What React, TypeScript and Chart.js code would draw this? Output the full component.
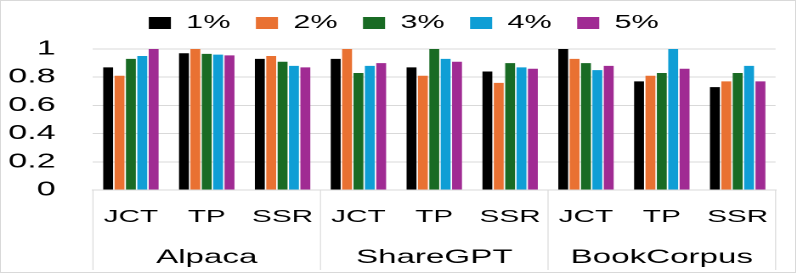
import React, { useEffect, useRef } from "react";
import { Chart, registerables } from "chart.js";

Chart.register(...registerables);

const categories = ["JCT", "TP", "SSR", "JCT", "TP", "SSR", "JCT", "TP", "SSR"];
const groups = ["Alpaca", "ShareGPT", "BookCorpus"];
const seriesNames = ["1%", "2%", "3%", "4%", "5%"];
const s1 = [0.87, 0.97, 0.93, 0.93, 0.87, 0.84, 1.0, 0.77, 0.73];
const s2 = [0.81, 1.0, 0.95, 1.0, 0.81, 0.76, 0.93, 0.81, 0.77];
const s3 = [0.93, 0.965, 0.91, 0.83, 1.0, 0.9, 0.9, 0.83, 0.83];
const s4 = [0.95, 0.96, 0.88, 0.88, 0.93, 0.87, 0.85, 1.0, 0.88];
const s5 = [1.0, 0.955, 0.87, 0.9, 0.91, 0.86, 0.88, 0.86, 0.77];
const colors = ["#000000", "#E97132", "#196B24", "#0F9ED5", "#A02B93"];
const yTicks = [0, 0.2, 0.4, 0.6, 0.8, 1];

const S = 1.7;
const W = 469;
const H = 274;
const FONT = "'Liberation Sans', Arial, sans-serif";

export default function App() {
  const ref = useRef<HTMLCanvasElement | null>(null);

  useEffect(() => {
    document.body.style.margin = "0";
    const canvas = ref.current;
    if (!canvas) return;
    const values = [s1, s2, s3, s4, s5];

    const separators = {
      id: "separators",
      afterDraw(chart: any) {
        const x = chart.scales.x;
        const ctx = chart.ctx;
        ctx.save();
        ctx.strokeStyle = "#d9d9d9";
        ctx.lineWidth = 1 / S;
        for (let k = 0; k <= categories.length; k += 3) {
          const px = x.getPixelForValue(k - 0.5);
          ctx.beginPath();
          ctx.moveTo(px, chart.chartArea.bottom);
          ctx.lineTo(px, 270);
          ctx.stroke();
        }
        ctx.restore();
      },
    };

    const legendFit = {
      id: "legendFit",
      beforeLayout(chart: any) {
        const lg = chart.legend;
        if (lg && !lg.__patched) {
          const orig = lg.fit;
          lg.fit = function () {
            orig.call(this);
            this.height = 49;
          };
          lg.__patched = true;
        }
      },
      afterLayout(chart: any) {
        const lg = chart.legend;
        if (lg) {
          lg.left += 7;
          lg.right += 7;
          lg.top -= 1;
        }
      },
    };

    const chart = new Chart(canvas, {
      type: "bar",
      data: {
        labels: categories,
        datasets: seriesNames.map((n, i) => ({
          label: n,
          data: values[i],
          backgroundColor: colors[i],
          borderWidth: 0,
          categoryPercentage: 0.75,
          barPercentage: 0.87,
          xAxisID: "x",
          yAxisID: "y",
        })),
      },
      options: {
        responsive: false,
        animation: false,
        devicePixelRatio: 2,
        layout: { padding: { top: 0, left: 0, right: 7.8, bottom: 2 } },
        plugins: {
          legend: {
            position: "top",
            align: "center",
            labels: {
              boxWidth: 13,
              boxHeight: 12,
              padding: 15,
              color: "#000",
              font: { family: FONT, size: 18 },
            },
          },
          tooltip: { enabled: false },
        },
        scales: {
          y: {
            min: 0,
            max: 1,
            afterBuildTicks: (s: any) => {
              s.ticks = yTicks.map((v) => ({ value: v }));
            },
            afterFit: (s: any) => {
              s.width = 54.7;
            },
            ticks: {
              padding: 22,
              color: "#000",
              font: { family: FONT, size: 20 },
              callback: (v: any) => String(Math.round(Number(v) * 10) / 10),
            },
            grid: { color: "#d9d9d9", lineWidth: 1, drawTicks: false },
            border: { display: false },
          },
          x: {
            type: "category",
            position: "bottom",
            weight: 0,
            afterFit: (s: any) => {
              s.height = 47;
            },
            grid: { display: false, drawTicks: false },
            border: { display: true, color: "#d9d9d9", width: 1 },
            ticks: {
              padding: 16.5,
              color: "#000",
              maxRotation: 0,
              autoSkip: false,
              font: { family: FONT, size: 17.5 },
            },
          },
          x2: {
            type: "category",
            labels: groups,
            position: "bottom",
            weight: 1,
            offset: true,
            afterFit: (s: any) => {
              s.height = 35;
            },
            grid: { display: false, drawTicks: false },
            border: { display: false },
            ticks: {
              padding: 8.8,
              color: "#000",
              maxRotation: 0,
              autoSkip: false,
              font: { family: FONT, size: 19.5 },
            },
          },
        },
      },
      plugins: [separators, legendFit],
    } as any);

    return () => chart.destroy();
  }, []);

  return (
    <div style={{ position: "relative", width: 797, height: H, overflow: "hidden", background: "#fff" }}>
      <div
        style={{
          position: "absolute",
          left: 0,
          top: 0,
          width: W,
          height: H,
          transform: `scaleX(${797 / W})`,
          transformOrigin: "0 0",
        }}
      >
        <canvas ref={ref} width={W} height={H} style={{ width: W, height: H, display: "block" }} />
      </div>
      <div
        style={{
          position: "absolute",
          left: 0,
          top: 0,
          width: 796,
          height: 273,
          border: "1px solid #d9d9d9",
          boxSizing: "border-box",
          pointerEvents: "none",
        }}
      />
    </div>
  );
}
